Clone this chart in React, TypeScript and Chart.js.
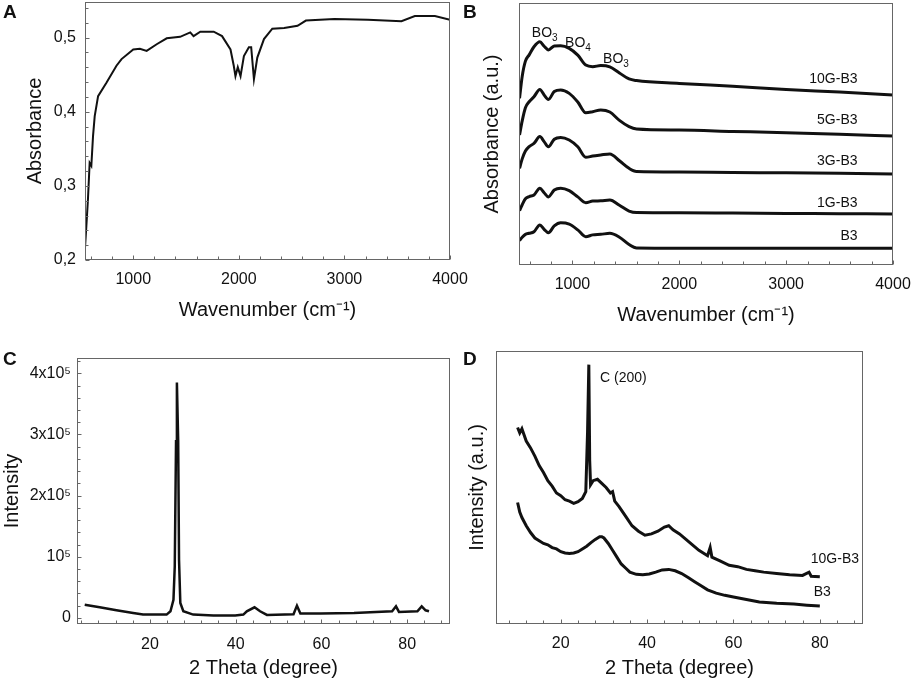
import React, { useEffect, useRef } from 'react';
import Chart from 'chart.js/auto';

const FONT = '"Liberation Sans", Arial, sans-serif';
const INK = '#111';

// A: FTIR of graphene
const aWavenumber = [540, 556, 571, 587, 603, 619, 635, 667, 746, 841, 889, 1000, 1063, 1127, 1222, 1317, 1444, 1540, 1571, 1635, 1762, 1841, 1921, 1952, 1968, 1990, 2016, 2048, 2095, 2117, 2143, 2175, 2238, 2317, 2429, 2556, 2635, 2905, 3222, 3540, 3667, 3762, 3857, 4000];
const aAbsorbance = [0.21, 0.246, 0.282, 0.331, 0.327, 0.367, 0.394, 0.421, 0.439, 0.462, 0.471, 0.484, 0.485, 0.482, 0.491, 0.499, 0.501, 0.507, 0.502, 0.508, 0.508, 0.502, 0.484, 0.462, 0.448, 0.46, 0.448, 0.475, 0.487, 0.487, 0.444, 0.473, 0.498, 0.512, 0.513, 0.516, 0.523, 0.525, 0.524, 0.522, 0.529, 0.529, 0.529, 0.524];
const aXTicks = [1000, 2000, 3000, 4000];
const aXLabels = ['1000', '2000', '3000', '4000'];
const aYTicks = [0.2, 0.3, 0.4, 0.5];
const aYLabels = ['0,2', '0,3', '0,4', '0,5'];

// B: FTIR of the glasses (stacked, arbitrary units)
const bWavenumber = [505, 530, 560, 595, 640, 695, 735, 775, 830, 890, 970, 1050, 1125, 1190, 1265, 1350, 1440, 1530, 1600, 2000, 2500, 3000, 3500, 4000];
const b10G = [63.6, 72, 77.8, 80.2, 83.3, 85.2, 83.5, 82.1, 83.6, 83.7, 82.7, 80.1, 76.3, 75.7, 76.1, 75.6, 73.3, 71, 70.4, 69.3, 68.2, 67, 66, 64.9];
const b5G = [49.6, 55, 60, 62.3, 64.2, 67, 64.9, 63.2, 66.2, 66.8, 65.5, 62.2, 58.1, 58.5, 59.2, 58.4, 55.2, 52.8, 51.9, 51.5, 51, 50.5, 49.9, 49.2];
const b3G = [36.9, 40.5, 43.5, 45.2, 46.4, 49, 47.1, 45.1, 48, 48.7, 47.7, 45.1, 41.1, 41.6, 42, 42.4, 39.8, 36.9, 35.7, 35.5, 35.3, 35.2, 35, 34.7];
const b1G = [20.7, 23, 25.3, 26.1, 26.7, 29.3, 27.6, 26, 28.6, 29.3, 28.4, 26, 23.8, 24.4, 24.5, 24.8, 22.8, 20.6, 20, 19.9, 19.8, 19.7, 19.6, 19.5];
const bB3 = [9.3, 10.6, 11.7, 12.1, 12.7, 15.3, 13.6, 12.3, 14.9, 16.1, 15.6, 13.4, 10.8, 11.5, 11.7, 12.1, 10.6, 7.8, 6.5, 6.4, 6.4, 6.4, 6.4, 6.4];
const bSeriesNames = ['10G-B3', '5G-B3', '3G-B3', '1G-B3', 'B3'];
const bXTicks = [1000, 2000, 3000, 4000];
const bXLabels = ['1000', '2000', '3000', '4000'];

// C: XRD of graphene
const cAngle = [4.8, 8.3, 12.2, 16.1, 18.4, 23.9, 24.8, 25.5, 25.8, 26.1, 26.3, 26.6, 26.8, 27.1, 27.8, 30.1, 34.8, 39.9, 41.8, 42.6, 44.4, 45.7, 47.3, 53.5, 54.3, 55.1, 59.8, 67.6, 76.5, 77.4, 78.1, 82.4, 83.4, 84.3, 85.1];
const cIntensity = [21600, 17300, 12400, 8100, 5400, 5400, 10800, 29700, 84000, 289000, 385000, 289000, 94600, 24300, 10800, 5400, 3800, 3800, 5400, 10800, 17300, 10800, 4900, 5900, 20000, 7000, 7000, 8100, 10800, 18900, 9700, 10800, 18900, 12400, 10800];
const cXTicks = [20, 40, 60, 80];
const cXLabels = ['20', '40', '60', '80'];
const cYTicks = [0, 100000, 200000, 300000, 400000];
const cYLabels = ['0', '10⁵', '2x10⁵', '3x10⁵', '4x10⁵'];

// D: XRD of the glasses (arbitrary units)
const dAngle10G = [10, 10.5, 11, 12, 13, 14, 15, 16, 17, 18, 19, 20, 21, 22, 23, 24, 25, 25.8, 26.2, 26.5, 26.7, 26.9, 27.5, 28.5, 29.5, 30.5, 31.5, 32, 32.5, 33.5, 35, 36.5, 38, 39.5, 41, 42.5, 44, 45, 46, 47.5, 49, 50.5, 52, 54, 54.6, 55, 57, 59, 61, 63, 65, 67, 70, 73, 76, 77.5, 78, 80];
const dIntensity10G = [72, 70, 71.5, 67, 64.5, 61.5, 58, 55.5, 52.5, 50.5, 48, 47, 45.5, 45, 44.2, 44.8, 46, 48.5, 70, 95, 60, 51, 52.5, 53, 51.5, 50, 48, 48.5, 45, 43, 39.5, 36, 34, 32.5, 33, 34, 35.5, 36, 34.5, 33, 31, 29, 27, 25, 28, 24.5, 23, 21.5, 21, 20, 19.5, 19, 18.5, 18, 17.8, 19, 17.5, 17.3];
const dAngleB3 = [10, 10.5, 11, 12, 13, 14, 15, 16, 17, 18, 19, 20, 21, 22, 23, 24, 25, 26, 27, 28, 29, 29.5, 30, 31, 32, 33, 34, 35, 36, 37.5, 39, 40.5, 42, 43.5, 45, 46.5, 48, 49.5, 51, 52.5, 54, 56, 58, 60, 63, 66, 70, 74, 77, 80];
const dIntensityB3 = [44.5, 41, 39, 36, 33.5, 31.5, 30.5, 29.5, 29, 28, 27.5, 26.5, 26, 25.8, 26, 26.5, 27.5, 28.5, 29.8, 31, 32, 32, 31.5, 29.5, 27, 24.5, 22, 20.5, 19, 18.2, 18, 18.3, 19, 19.8, 20, 19.5, 18.5, 17, 15.5, 14, 12.5, 11.3, 10.5, 9.9, 9, 8.1, 7.6, 7.3, 6.9, 6.6];
const dXTicks = [20, 40, 60, 80];
const dXLabels = ['20', '40', '60', '80'];

type Note = { x: number; y: number; text: string; sub?: string; align?: CanvasTextAlign };
type Marks = { xMajor: number[]; xMinor: number[]; yMajor: number[]; yMinor: number[] };

const steps = (from: number, to: number, step: number, skip: number[] = []) => {
  const out: number[] = [];
  for (let i = 0; from + i * step <= to + 1e-9; i++) {
    const v = +(from + i * step).toFixed(6);
    if (!skip.some((s) => Math.abs(s - v) < 1e-9)) out.push(v);
  }
  return out;
};

const pts = (xs: number[], ys: number[]) => xs.map((x, i) => ({ x, y: ys[i] }));

function framePlugin(id: string, marks: Marks, notes: Note[]) {
  return {
    id,
    afterDatasetsDraw(chart: any) {
      const { ctx, chartArea: a, scales } = chart;
      const x = scales.x;
      const y = scales.y;
      ctx.save();
      ctx.strokeStyle = '#666';
      ctx.lineWidth = 1;
      const l = Math.round(a.left) + 0.5;
      const t = Math.round(a.top) + 0.5;
      const r = Math.round(a.right) - 0.5;
      const b = Math.round(a.bottom) - 0.5;
      ctx.strokeRect(l, t, r - l, b - t);
      ctx.beginPath();
      const tick = (list: number[], len: number, horiz: boolean) => {
        list.forEach((v) => {
          if (horiz) {
            const px = Math.round(x.getPixelForValue(v)) + 0.5;
            ctx.moveTo(px, b);
            ctx.lineTo(px, b - len);
          } else {
            const py = Math.round(y.getPixelForValue(v)) + 0.5;
            ctx.moveTo(l, py);
            ctx.lineTo(l + len, py);
          }
        });
      };
      tick(marks.xMajor, 4, true);
      tick(marks.xMinor, 3, true);
      tick(marks.yMajor, 4, false);
      tick(marks.yMinor, 3, false);
      ctx.stroke();
      ctx.fillStyle = INK;
      ctx.textBaseline = 'alphabetic';
      notes.forEach((n) => {
        const px = x.getPixelForValue(n.x);
        const py = y.getPixelForValue(n.y);
        ctx.font = `14px ${FONT}`;
        ctx.textAlign = n.align || 'left';
        ctx.fillText(n.text, px, py);
        if (n.sub) {
          const w = ctx.measureText(n.text).width;
          ctx.font = `10px ${FONT}`;
          ctx.textAlign = 'left';
          ctx.fillText(n.sub, px + w, py + 4);
        }
      });
      ctx.restore();
    },
  };
}

const fix = (prop: 'width' | 'height', n: number) => (s: any) => {
  s[prop] = n;
  s.paddingLeft = 0;
  s.paddingRight = 0;
  s.paddingTop = 0;
  s.paddingBottom = 0;
};

const setTicks = (values: number[]) => (s: any) => {
  s.ticks = values.map((v) => ({ value: v }));
};

function xAxis(min: number, max: number, ticks: number[], labels: string[], height: number, pad: number, titlePad: number, text: string) {
  return {
    type: 'linear',
    min,
    max,
    afterBuildTicks: setTicks(ticks),
    afterFit: fix('height', height),
    grid: { display: false, drawTicks: false },
    border: { display: false },
    ticks: { color: INK, font: { family: FONT, size: 16 }, padding: pad, maxRotation: 0, autoSkip: false, callback: (_v: any, i: number) => labels[i] },
    title: { display: true, text, color: INK, font: { family: FONT, size: 20 }, padding: { top: 0, bottom: titlePad } },
  };
}

function yAxis(min: number, max: number, ticks: number[], labels: string[] | null, width: number, pad: number, titlePad: number, text: string) {
  return {
    type: 'linear',
    min,
    max,
    afterBuildTicks: setTicks(ticks),
    afterFit: fix('width', width),
    grid: { display: false, drawTicks: false },
    border: { display: false },
    ticks: { display: !!labels, color: INK, font: { family: FONT, size: 16 }, padding: pad, autoSkip: false, callback: (_v: any, i: number) => (labels ? labels[i] : '') },
    title: { display: true, text, color: INK, font: { family: FONT, size: 20 }, padding: { top: titlePad, bottom: 0 } },
  };
}

const line = (data: { x: number; y: number }[], width: number, smooth = false) => ({
  data,
  borderColor: INK,
  borderWidth: width,
  pointRadius: 0,
  fill: false,
  tension: smooth ? 0.4 : 0,
  cubicInterpolationMode: smooth ? 'monotone' : 'default',
});

function base(padding: any, x: any, y: any, datasets: any[], plugin: any) {
  return {
    type: 'line',
    data: { datasets },
    options: {
      animation: false,
      responsive: true,
      maintainAspectRatio: false,
      layout: { padding },
      parsing: false,
      plugins: { legend: { display: false }, tooltip: { enabled: false } },
      scales: { x, y },
    },
    plugins: [plugin],
  } as any;
}

const buildA = () =>
  base(
    { left: 0, top: 2, right: 25, bottom: 0 },
    xAxis(543, 4000, aXTicks, aXLabels, 70, 10, 8, 'Wavenumber (cm⁻¹)'),
    yAxis(0.2, 0.548, aYTicks, aYLabels, 85, 9, 23, 'Absorbance'),
    [line(pts(aWavenumber, aAbsorbance), 2)],
    framePlugin('frameA', { xMajor: aXTicks, xMinor: steps(600, 3800, 200, aXTicks), yMajor: aYTicks, yMinor: steps(0.22, 0.54, 0.02, aYTicks) }, [])
  );

const bSeries = [b10G, b5G, b3G, b1G, bB3];
const bLabelY = [69.5, 53.8, 38.2, 22.3, 9.5];
const buildB = () =>
  base(
    { left: 0, top: 3, right: 20, bottom: 0 },
    xAxis(500, 4000, bXTicks, bXLabels, 65, 10, 3, 'Wavenumber (cm⁻¹)'),
    yAxis(0, 100, [], null, 59, 0, 20, 'Absorbance (a.u.)'),
    bSeries.map((s) => line(pts(bWavenumber, s), 3, true)),
    framePlugin('frameB', { xMajor: bXTicks, xMinor: steps(600, 3800, 200, bXTicks), yMajor: [], yMinor: [] }, [
      { x: 620, y: 87, text: 'BO', sub: '3' },
      { x: 931, y: 83.2, text: 'BO', sub: '4' },
      { x: 1287, y: 77.1, text: 'BO', sub: '3' },
      ...bSeriesNames.map((n, i) => ({ x: 3668, y: bLabelY[i], text: n, align: 'right' as CanvasTextAlign })),
    ])
  );

const buildC = () =>
  base(
    { left: 0, top: 18, right: 25, bottom: 0 },
    xAxis(3, 90, cXTicks, cXLabels, 60, 11, 4, '2 Theta (degree)'),
    yAxis(-10000, 425000, cYTicks, cYLabels, 77, 6, 0, 'Intensity'),
    [line(pts(cAngle, cIntensity), 2.5)],
    framePlugin('frameC', { xMajor: cXTicks, xMinor: steps(4, 88, 4, cXTicks), yMajor: cYTicks, yMinor: steps(20000, 420000, 20000, cYTicks) }, [])
  );

const buildD = () =>
  base(
    { left: 0, top: 11, right: 50, bottom: 0 },
    xAxis(5, 90, dXTicks, dXLabels, 60, 10, 4, '2 Theta (degree)'),
    yAxis(0, 100, [], null, 36, 0, 5, 'Intensity (a.u.)'),
    [line(pts(dAngle10G, dIntensity10G), 3), line(pts(dAngleB3, dIntensityB3), 3)],
    framePlugin('frameD', { xMajor: dXTicks, xMinor: steps(8, 88, 4, dXTicks), yMajor: [], yMinor: [] }, [
      { x: 29.1, y: 88.6, text: 'C (200)' },
      { x: 77.9, y: 22.3, text: '10G-B3' },
      { x: 78.6, y: 10.3, text: 'B3' },
    ])
  );

function Panel({ left, top, width, height, build }: { left: number; top: number; width: number; height: number; build: () => any }) {
  const ref = useRef<HTMLCanvasElement | null>(null);
  const chart = useRef<Chart | null>(null);
  useEffect(() => {
    if (ref.current) {
      if (chart.current) chart.current.destroy();
      chart.current = new Chart(ref.current, build());
    }
    return () => {
      if (chart.current) {
        chart.current.destroy();
        chart.current = null;
      }
    };
  }, [build]);
  return (
    <div style={{ position: 'absolute', left, top, width, height }}>
      <canvas ref={ref}></canvas>
    </div>
  );
}

const letter = (text: string, left: number, top: number) => (
  <div key={text} style={{ position: 'absolute', left, top, font: `bold 19px ${FONT}`, lineHeight: 1, color: INK }}>
    {text}
  </div>
);

export default function App() {
  return (
    <div style={{ position: 'fixed', left: 0, top: 0, width: 913, height: 684, background: '#fff' }}>
      <Panel left={0} top={0} width={475} height={330} build={buildA} />
      <Panel left={460} top={0} width={453} height={330} build={buildB} />
      <Panel left={0} top={340} width={475} height={344} build={buildC} />
      <Panel left={460} top={340} width={453} height={344} build={buildD} />
      {letter('A', 3, 2)}
      {letter('B', 463, 2)}
      {letter('C', 3, 349)}
      {letter('D', 463, 349)}
    </div>
  );
}
